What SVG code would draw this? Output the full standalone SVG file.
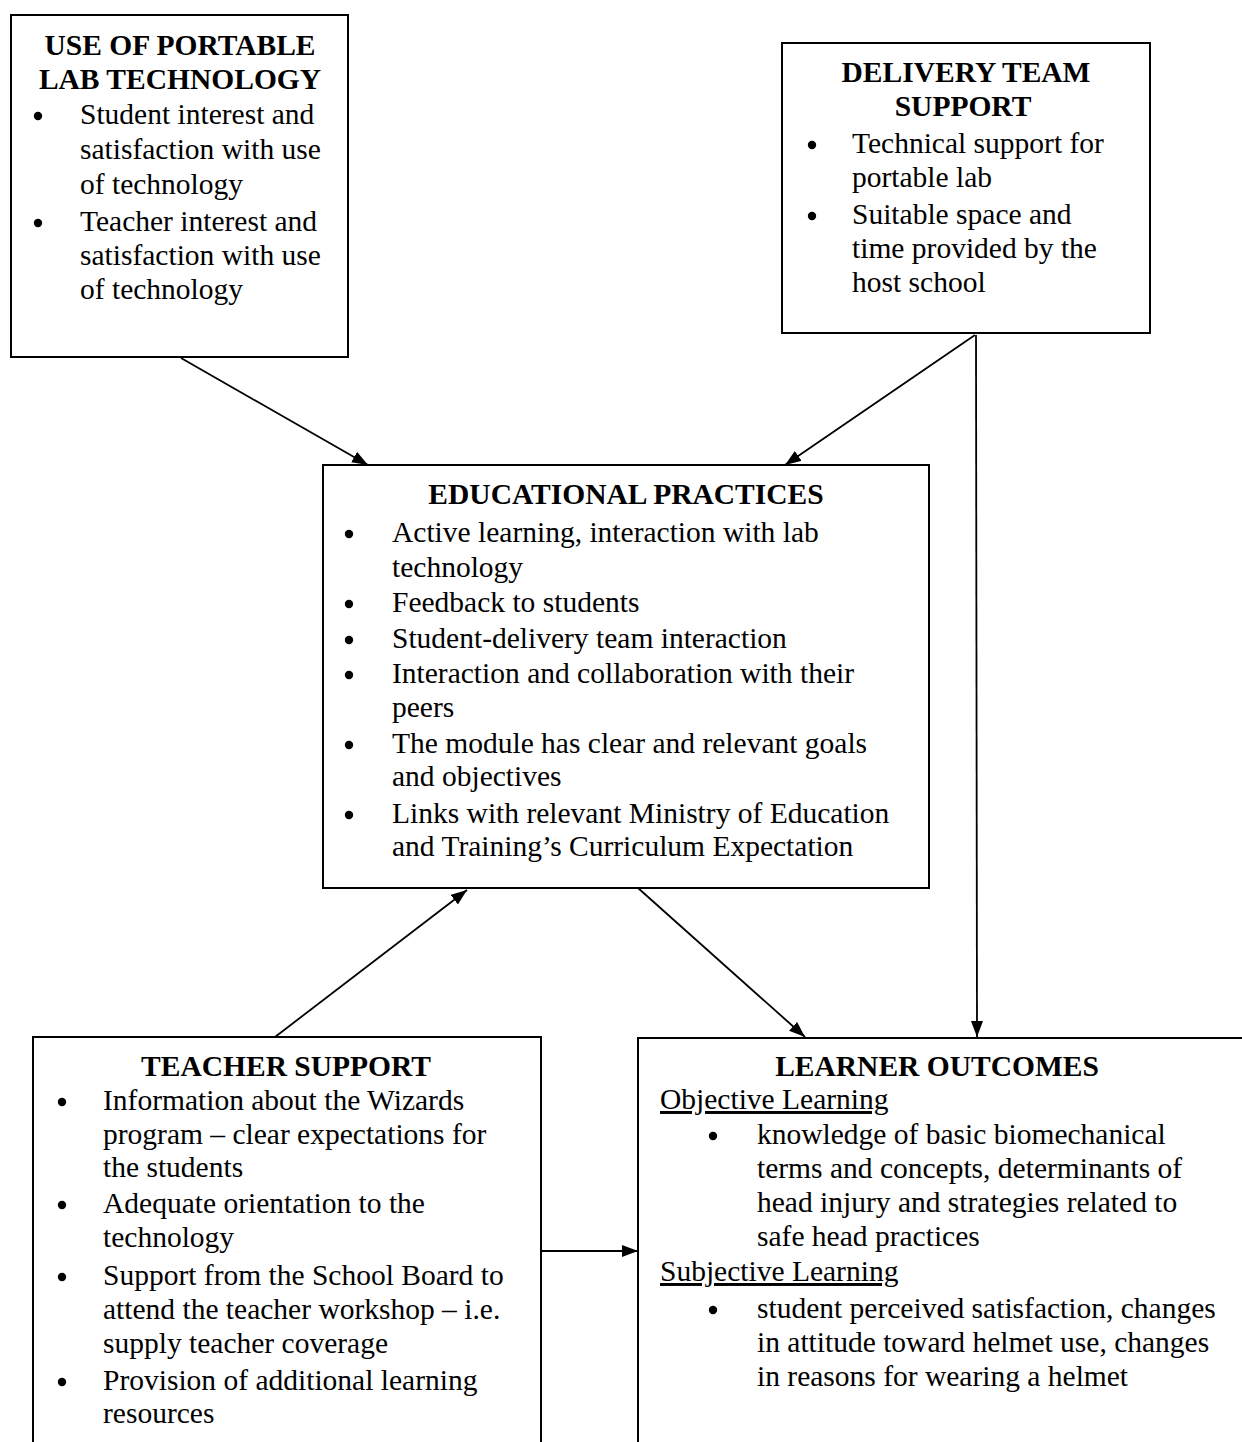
<svg xmlns="http://www.w3.org/2000/svg" width="1242" height="1442" viewBox="0 0 1242 1442">
<style>
.box{fill:#fff;stroke:#000;stroke-width:2}
.t{font-family:"Liberation Serif","Times New Roman",serif;font-size:29.5px;fill:#000}
.h{font-weight:bold;text-anchor:middle}
.u{text-decoration:underline}
.b{fill:#000}
.c{stroke:#000;stroke-width:1.8;fill:none;marker-end:url(#ah)}
</style>
<defs>
<marker id="ah" markerUnits="userSpaceOnUse" markerWidth="18" markerHeight="14" refX="16" refY="6" orient="auto">
<path d="M0,0 L16,6 L0,12 Z" fill="#000"/>
</marker>
</defs>
<rect width="1242" height="1442" fill="#fff"/>

<g id="connectors">
<line class="c" x1="181" y1="358" x2="368" y2="465"/>
<line class="c" x1="975" y1="335" x2="785" y2="465"/>
<line class="c" x1="976" y1="335" x2="977" y2="1037"/>
<line class="c" x1="275" y1="1037" x2="467" y2="890"/>
<line class="c" x1="638" y1="888" x2="805" y2="1037"/>
<line class="c" x1="541" y1="1251" x2="638" y2="1251"/>
</g>

<g id="node-portable-lab">
<rect class="box" x="11" y="15" width="337" height="342"/>
<text class="t h" x="180" y="55">USE OF PORTABLE</text>
<text class="t h" x="180" y="89">LAB TECHNOLOGY</text>
<circle class="b" cx="38" cy="116" r="4.2"/>
<text class="t" x="80" y="124">Student interest and</text>
<text class="t" x="80" y="159">satisfaction with use</text>
<text class="t" x="80" y="194">of technology</text>
<circle class="b" cx="38" cy="223" r="4.2"/>
<text class="t" x="80" y="231">Teacher interest and</text>
<text class="t" x="80" y="265">satisfaction with use</text>
<text class="t" x="80" y="299">of technology</text>
</g>

<g id="node-delivery-team">
<rect class="box" x="782" y="43" width="368" height="290"/>
<text class="t h" x="966" y="82">DELIVERY TEAM</text>
<text class="t h" x="963" y="116">SUPPORT</text>
<circle class="b" cx="812" cy="145" r="4.2"/>
<text class="t" x="852" y="153">Technical support for</text>
<text class="t" x="852" y="187">portable lab</text>
<circle class="b" cx="812" cy="216" r="4.2"/>
<text class="t" x="852" y="224">Suitable space and</text>
<text class="t" x="852" y="258">time provided by the</text>
<text class="t" x="852" y="292">host school</text>
</g>

<g id="node-educational-practices">
<rect class="box" x="323" y="465" width="606" height="423"/>
<text class="t h" x="626" y="504">EDUCATIONAL PRACTICES</text>
<circle class="b" cx="349" cy="534" r="4.2"/>
<text class="t" x="392" y="542">Active learning, interaction with lab</text>
<text class="t" x="392" y="577">technology</text>
<circle class="b" cx="349" cy="604" r="4.2"/>
<text class="t" x="392" y="612">Feedback to students</text>
<circle class="b" cx="349" cy="640" r="4.2"/>
<text class="t" x="392" y="648">Student-delivery team interaction</text>
<circle class="b" cx="349" cy="675" r="4.2"/>
<text class="t" x="392" y="683">Interaction and collaboration with their</text>
<text class="t" x="392" y="717">peers</text>
<circle class="b" cx="349" cy="745" r="4.2"/>
<text class="t" x="392" y="753">The module has clear and relevant goals</text>
<text class="t" x="392" y="786">and objectives</text>
<circle class="b" cx="349" cy="815" r="4.2"/>
<text class="t" x="392" y="823">Links with relevant Ministry of Education</text>
<text class="t" x="392" y="856">and Training’s Curriculum Expectation</text>
</g>

<g id="node-teacher-support">
<rect class="box" x="33" y="1037" width="508" height="430"/>
<text class="t h" x="286" y="1076">TEACHER SUPPORT</text>
<circle class="b" cx="62" cy="1102" r="4.2"/>
<text class="t" x="103" y="1110">Information about the Wizards</text>
<text class="t" x="103" y="1144">program – clear expectations for</text>
<text class="t" x="103" y="1177">the students</text>
<circle class="b" cx="62" cy="1205" r="4.2"/>
<text class="t" x="103" y="1213">Adequate orientation to the</text>
<text class="t" x="103" y="1247">technology</text>
<circle class="b" cx="62" cy="1277" r="4.2"/>
<text class="t" x="103" y="1285">Support from the School Board to</text>
<text class="t" x="103" y="1319">attend the teacher workshop – i.e.</text>
<text class="t" x="103" y="1353">supply teacher coverage</text>
<circle class="b" cx="62" cy="1382" r="4.2"/>
<text class="t" x="103" y="1390">Provision of additional learning</text>
<text class="t" x="103" y="1423">resources</text>
</g>

<g id="node-learner-outcomes">
<rect class="box" x="638" y="1038" width="620" height="430"/>
<text class="t h" x="937" y="1076">LEARNER OUTCOMES</text>
<text class="t u" x="660" y="1109">Objective Learning</text>
<circle class="b" cx="713" cy="1136" r="4.2"/>
<text class="t" x="757" y="1144">knowledge of basic biomechanical</text>
<text class="t" x="757" y="1178">terms and concepts, determinants of</text>
<text class="t" x="757" y="1212">head injury and strategies related to</text>
<text class="t" x="757" y="1246">safe head practices</text>
<text class="t u" x="660" y="1281">Subjective Learning</text>
<circle class="b" cx="713" cy="1310" r="4.2"/>
<text class="t" x="757" y="1318">student perceived satisfaction, changes</text>
<text class="t" x="757" y="1352">in attitude toward helmet use, changes</text>
<text class="t" x="757" y="1386">in reasons for wearing a helmet</text>
</g>
</svg>
